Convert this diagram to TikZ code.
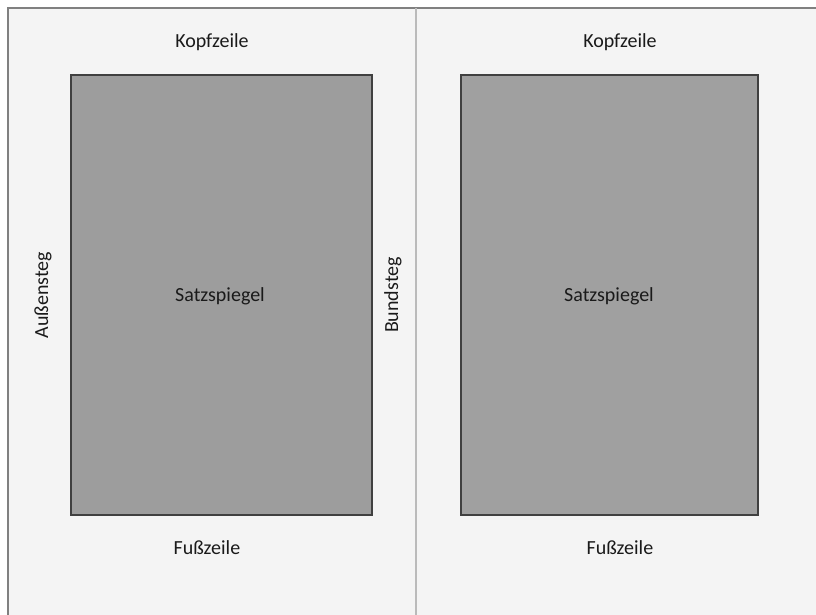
\documentclass[tikz,border=0pt]{standalone}
\usepackage{fontspec}
\setmainfont{Carlito}
\definecolor{pagebg}{HTML}{F4F4F4}
\definecolor{boxl}{HTML}{9D9D9D}
\definecolor{boxr}{HTML}{A0A0A0}
\definecolor{txt}{HTML}{1A1A1A}
\begin{document}
\begin{tikzpicture}[x=1pt,y=-1pt,
  lbl/.style={font=\fontsize{20}{24}\selectfont, text=txt, inner sep=0pt},
  spiegel/.style={draw=black!75, line width=2pt},
  frame/.style={draw=black!50, line width=2pt}]
\useasboundingbox (0,0) rectangle (816,615);
\fill[white] (0,0) rectangle (816,615);
\fill[pagebg] (8,8) rectangle (816,615);
\draw[frame] (8,615) -- (8,8) -- (816,8);
\draw[draw=black!27, line width=1.5pt] (416,8) -- (416,615);
\node[spiegel, fill=boxl, minimum width=301pt, minimum height=440pt, inner sep=0pt, anchor=north west] (sl) at (70,74) {};
\node[spiegel, fill=boxr, minimum width=297pt, minimum height=440pt, inner sep=0pt, anchor=north west] (sr) at (460,74) {};
\node[lbl] (sltext) at (220,296) {Satzspiegel};
\node[lbl] (srtext) at (609,296) {Satzspiegel};
\node[lbl] (kl) at (212,42) {Kopfzeile};
\node[lbl] (kr) at (620,42) {Kopfzeile};
\node[lbl] (fl) at (207,548) {Fußzeile};
\node[lbl] (fr) at (620,548) {Fußzeile};
\node[lbl, rotate=90] (as) at (43,295) {Außensteg};
\node[lbl, rotate=90] (bs) at (393,295) {Bundsteg};
\end{tikzpicture}
\end{document}
